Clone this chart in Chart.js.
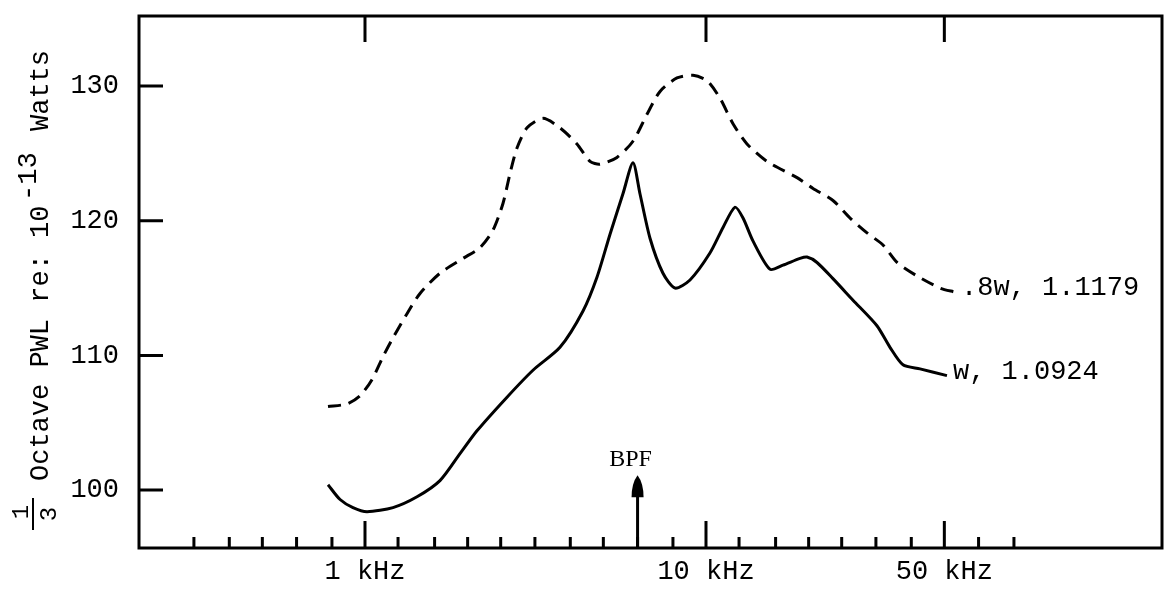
<!DOCTYPE html>
<html>
<head>
<meta charset="utf-8">
<title>1/3 Octave PWL</title>
<script src="https://cdn.jsdelivr.net/npm/chart.js@4.4.0/dist/chart.umd.min.js"></script>
<style>
  html, body { margin: 0; padding: 0; background: #fff; }
  #wrap { width: 1166px; height: 590px; }
</style>
</head>
<body>
<div id="wrap"><canvas id="pwlChart" width="1166" height="590"></canvas></div>
<script>
// .8w curve (dashed), frequency in Hz / level in dB
const dashedFreq = [779, 886, 967, 1048, 1129, 1208, 1328, 1450, 1659, 1938, 2174, 2374, 2540, 2662, 2791, 2987, 3327, 3731, 4184, 4569, 4889, 5482, 6108, 6714, 7331, 8222, 9161, 10070, 10990, 12000, 13190, 15100, 18490, 20600, 23570, 26440, 29660, 33040, 36320, 41570, 48560, 53730];
const dashedLevel = [106.2, 106.4, 107.0, 108.2, 109.9, 111.3, 113.1, 114.6, 116.1, 117.2, 118.0, 119.3, 121.3, 123.5, 125.4, 126.9, 127.6, 126.9, 125.7, 124.4, 124.2, 124.7, 125.9, 127.9, 129.6, 130.6, 130.8, 130.4, 129.1, 127.2, 125.7, 124.4, 123.2, 122.4, 121.5, 120.2, 119.1, 118.2, 116.9, 115.9, 115.0, 114.7];

// w curve (solid)
const solidFreq = [779, 845, 922, 1014, 1208, 1421, 1659, 1899, 2130, 2609, 3109, 3731, 4359, 4789, 5231, 5708, 6108, 6403, 6852, 7479, 8111, 8977, 10270, 11220, 12160, 12840, 13730, 15400, 16820, 18870, 19780, 21160, 23570, 26980, 31720, 34640, 37820, 42420, 50890];
const solidLevel = [100.4, 99.3, 98.7, 98.4, 98.7, 99.5, 100.7, 102.7, 104.4, 106.9, 108.9, 110.6, 113.3, 115.8, 119.0, 122.0, 124.3, 122.0, 118.7, 116.1, 115.0, 115.6, 117.6, 119.5, 121.0, 120.2, 118.5, 116.4, 116.7, 117.2, 117.3, 116.9, 115.7, 114.1, 112.2, 110.6, 109.3, 109.0, 108.5];

const seriesNames = [".8w, 1.1179", "w, 1.0924"];

// axis ticks
const yTicks = [100, 110, 120, 130];
const bandTicks = [315, 400, 500, 630, 800, 1000, 1250, 1600, 2000, 2500, 3150, 4000, 5000, 6300, 8000, 10000, 12500, 16000, 20000, 25000, 31500, 40000, 50000, 63000, 80000];
const majorTicks = [1000, 10000, 50000];
const majorLabels = ["1 kHz", "10 kHz", "50 kHz"];

// blade passing frequency marker
const bpfFreq = 6300;
const bpfTipLevel = 101.1;

const MONO = "'Liberation Mono', 'Courier New', monospace";
const toPoints = (xs, ys) => xs.map((x, i) => ({ x: x, y: ys[i] }));

// draw the frame, inner ticks, BPF arrow, curve labels and y title
const decorPlugin = {
  id: "decor",
  afterDatasetsDraw(chart) {
    const ctx = chart.ctx;
    const area = chart.chartArea;
    const xs = chart.scales.x;
    const ys = chart.scales.y;
    ctx.save();
    ctx.strokeStyle = "#000";
    ctx.fillStyle = "#000";
    ctx.lineWidth = 3;
    ctx.lineCap = "butt";
    ctx.strokeRect(area.left, area.top, area.right - area.left, area.bottom - area.top);

    ctx.beginPath();
    yTicks.forEach((v) => {
      const y = ys.getPixelForValue(v);
      ctx.moveTo(area.left, y);
      ctx.lineTo(area.left + 24, y);
    });
    bandTicks.forEach((f) => {
      const x = xs.getPixelForValue(f);
      const len = majorTicks.includes(f) ? 27 : 11;
      ctx.moveTo(x, area.bottom);
      ctx.lineTo(x, area.bottom - len);
    });
    majorTicks.forEach((f) => {
      const x = xs.getPixelForValue(f);
      ctx.moveTo(x, area.top);
      ctx.lineTo(x, area.top + 26);
    });
    ctx.stroke();

    // BPF arrow
    const bx = xs.getPixelForValue(bpfFreq);
    const tip = ys.getPixelForValue(bpfTipLevel);
    ctx.beginPath();
    ctx.moveTo(bx, area.bottom);
    ctx.lineTo(bx, tip + 16);
    ctx.stroke();
    ctx.beginPath();
    ctx.moveTo(bx, tip);
    ctx.quadraticCurveTo(bx + 6, tip + 8, bx + 6, tip + 22);
    ctx.lineTo(bx - 6, tip + 22);
    ctx.quadraticCurveTo(bx - 6, tip + 8, bx, tip);
    ctx.closePath();
    ctx.fill();
    ctx.font = "24px 'Liberation Serif', 'Times New Roman', serif";
    ctx.textAlign = "center";
    ctx.textBaseline = "alphabetic";
    ctx.fillText("BPF", bx - 7, tip - 9);

    // curve end labels
    ctx.font = "27px " + MONO;
    ctx.textAlign = "left";
    ctx.textBaseline = "middle";
    chart.data.datasets.forEach((ds, i) => {
      const pts = chart.getDatasetMeta(i).data;
      const last = pts[pts.length - 1];
      ctx.fillText(seriesNames[i], last.x + 6, last.y - 4);
    });

    // rotated y title: 1/3 Octave PWL re: 10^-13 Watts
    const rot = (text, x, y, font, align) => {
      ctx.save();
      ctx.translate(x, y);
      ctx.rotate(-Math.PI / 2);
      ctx.font = font;
      ctx.textAlign = align || "left";
      ctx.textBaseline = "alphabetic";
      ctx.fillText(text, 0, 0);
      ctx.restore();
    };
    rot("1", 28, 512, "24px " + MONO, "center");
    rot("3", 56, 514, "24px " + MONO, "center");
    ctx.lineWidth = 2;
    ctx.beginPath();
    ctx.moveTo(33, 498);
    ctx.lineTo(33, 530);
    ctx.stroke();
    rot("Octave PWL re: 10", 48, 481, "27px " + MONO);
    rot("-13", 36, 201, "27px " + MONO);
    rot("Watts", 48, 131, "27px " + MONO);
    ctx.restore();
  },
};

const config = {
  type: "line",
  data: {
    datasets: [
      {
        label: seriesNames[0],
        data: toPoints(dashedFreq, dashedLevel),
        borderColor: "#000",
        borderWidth: 3,
        borderDash: [13, 8],
        pointRadius: 0,
        tension: 0.25,
        fill: false,
      },
      {
        label: seriesNames[1],
        data: toPoints(solidFreq, solidLevel),
        borderColor: "#000",
        borderWidth: 3,
        pointRadius: 0,
        tension: 0.25,
        fill: false,
      },
    ],
  },
  options: {
    responsive: false,
    animation: false,
    devicePixelRatio: 1,
    layout: { padding: { top: 16, right: 4, left: 0, bottom: 0 } },
    plugins: {
      legend: { display: false },
      tooltip: { enabled: false },
    },
    scales: {
      x: {
        type: "logarithmic",
        min: 217.4,
        max: 217400,
        grid: { display: false, drawTicks: false },
        border: { display: false },
        afterBuildTicks: (scale) => {
          scale.ticks = bandTicks.map((v) => ({ value: v }));
        },
        afterFit: (scale) => {
          scale.height = 42;
          scale.paddingLeft = 0;
          scale.paddingRight = 0;
        },
        ticks: {
          autoSkip: false,
          maxRotation: 0,
          padding: 8,
          color: "#000",
          font: { family: MONO, size: 27 },
          callback: (value) => {
            const idx = majorTicks.indexOf(value);
            return idx >= 0 ? majorLabels[idx] : "";
          },
        },
      },
      y: {
        type: "linear",
        min: 95.7,
        max: 135.2,
        grid: { display: false, drawTicks: false },
        border: { display: false },
        afterBuildTicks: (scale) => {
          scale.ticks = yTicks.map((v) => ({ value: v }));
        },
        afterFit: (scale) => {
          scale.width = 139;
          scale.paddingTop = 0;
          scale.paddingBottom = 0;
        },
        ticks: {
          padding: 20,
          color: "#000",
          font: { family: MONO, size: 27 },
        },
      },
    },
  },
  plugins: [decorPlugin],
};

const pwlChart = new Chart(document.getElementById("pwlChart"), config);
</script>
</body>
</html>
